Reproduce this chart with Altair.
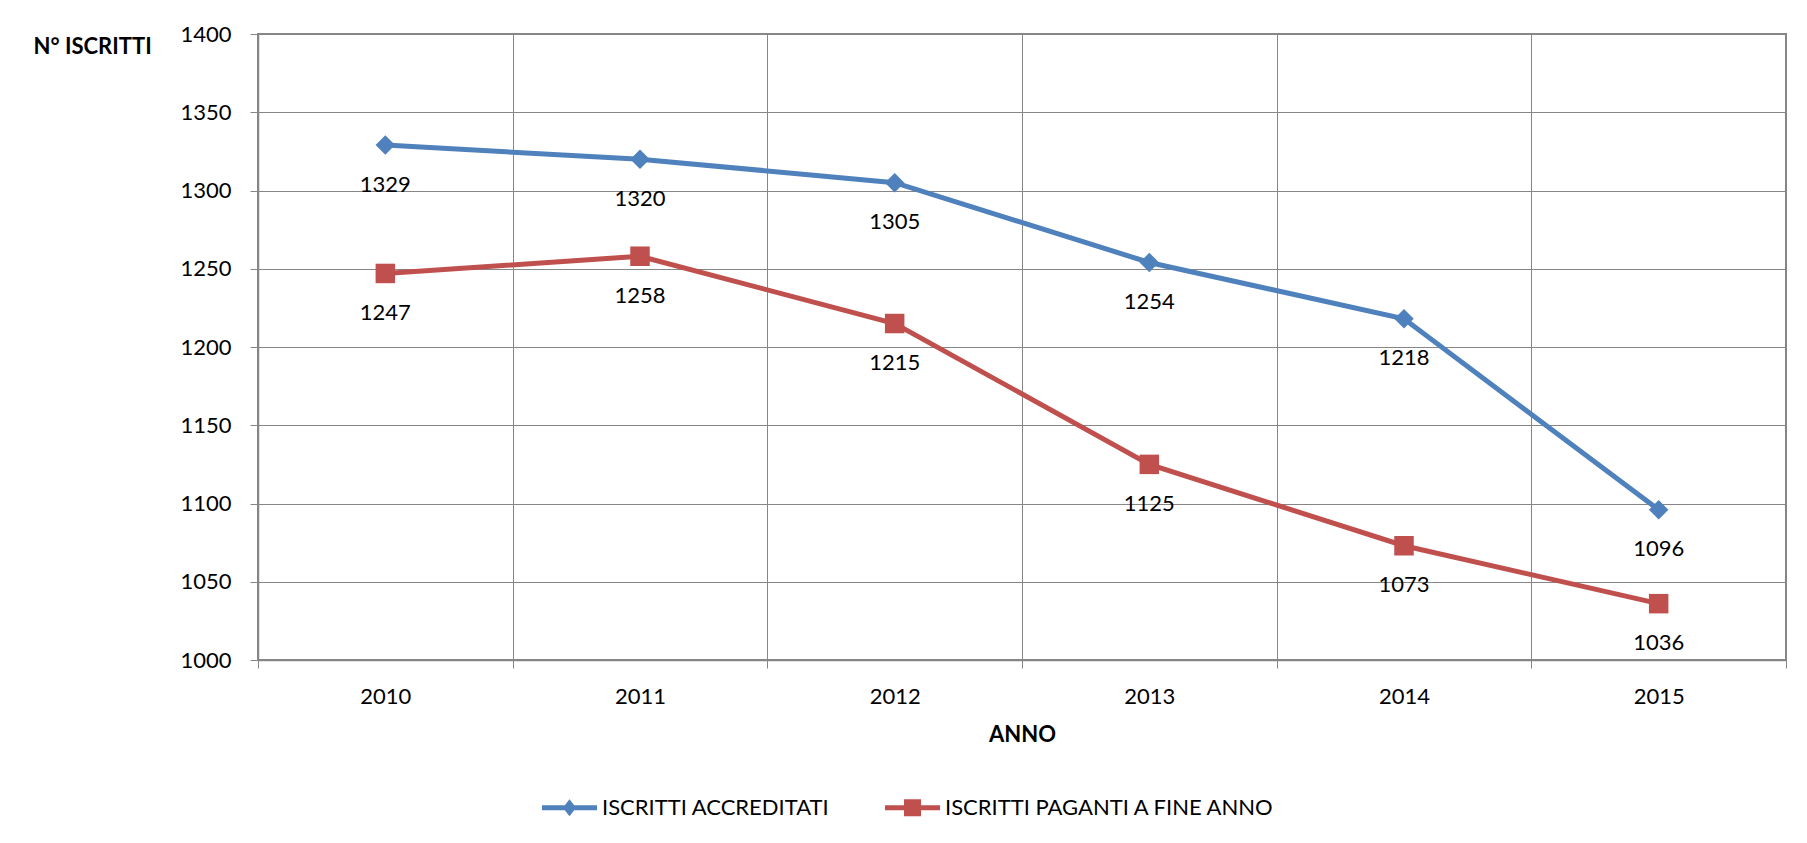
import altair as alt
import pandas as pd

years = [2010, 2011, 2012, 2013, 2014, 2015]
accreditati = [1329, 1320, 1305, 1254, 1218, 1096]
paganti = [1247, 1258, 1215, 1125, 1073, 1036]
series = ["ISCRITTI ACCREDITATI", "ISCRITTI PAGANTI A FINE ANNO"]
y_ticks = [1000, 1050, 1100, 1150, 1200, 1250, 1300, 1350, 1400]
x_bounds = [2009.5, 2010.5, 2011.5, 2012.5, 2013.5, 2014.5, 2015.5]
colors = ["#4F81BD", "#C0504D"]

rows = []
for y, v in zip(years, accreditati):
    rows.append({"anno": y, "valore": v, "serie": series[0]})
for y, v in zip(years, paganti):
    rows.append({"anno": y, "valore": v, "serie": series[1]})
df = pd.DataFrame(rows)

FONT = "Lato"
GRID = "#868686"

xscale = alt.Scale(domain=[x_bounds[0], x_bounds[-1]], nice=False, zero=False)
yscale = alt.Scale(domain=[1000, 1400], nice=False, zero=False)
cscale = alt.Scale(domain=series, range=colors)

y_enc = alt.Y(
    "valore:Q",
    scale=yscale,
    axis=alt.Axis(
        values=y_ticks,
        format="d",
        grid=True,
        gridColor=GRID,
        gridWidth=1,
        domainColor=GRID,
        domainWidth=1.5,
        tickColor=GRID,
        tickSize=8,
        labelFont=FONT,
        labelFontSize=22,
        labelColor="black",
        labelPadding=19,
        title="N° ISCRITTI",
        titleFont=FONT,
        titleFontSize=22,
        titleFontWeight="bold",
        titleColor="black",
        titleAngle=0,
        titleAlign="left",
        titleBaseline="alphabetic",
        titleX=-225,
        titleY=19,
    ),
)

base = alt.Chart(df)

lines = base.mark_line(strokeWidth=5).encode(
    x=alt.X(
        "anno:Q",
        scale=xscale,
        axis=alt.Axis(
            orient="bottom",
            values=years,
            format="d",
            grid=False,
            ticks=False,
            tickSize=0,
            domainColor=GRID,
            domainWidth=1.5,
            labelFont=FONT,
            labelFontSize=22,
            labelColor="black",
            labelPadding=26,
            title="ANNO",
            titleFont=FONT,
            titleFontSize=22,
            titleFontWeight="bold",
            titleColor="black",
            titlePadding=17,
        ),
    ),
    y=y_enc,
    color=alt.Color("serie:N", scale=cscale, legend=None),
    detail="serie:N",
)

points = base.mark_point(filled=True, opacity=1, size=380).encode(
    x=alt.X(
        "anno:Q",
        scale=xscale,
        axis=alt.Axis(
            orient="bottom",
            values=x_bounds,
            labels=False,
            grid=True,
            gridColor=GRID,
            gridWidth=1,
            ticks=True,
            tickSize=8,
            tickColor=GRID,
            domain=False,
            title=None,
        ),
    ),
    y=alt.Y("valore:Q", scale=yscale),
    color=alt.Color("serie:N", scale=cscale, legend=None),
    shape=alt.Shape("serie:N", scale=alt.Scale(domain=series, range=["diamond", "square"]), legend=None),
)

labels = base.mark_text(
    font=FONT, fontSize=22, color="black", baseline="alphabetic", align="center", dy=46.5
).encode(
    x=alt.X("anno:Q", scale=xscale, axis=None),
    y=alt.Y("valore:Q", scale=yscale),
    text=alt.Text("valore:Q", format="d"),
)

leg_paths = [
    "M-1,-0.09H1V0.09H-1Z M0,-0.31L0.24,0L0,0.31L-0.24,0Z",
    "M-1,-0.09H1V0.09H-1Z M-0.31,-0.31H0.31V0.31H-0.31Z",
]
legend_spec = alt.Legend(
    title=None,
    orient="none",
    direction="horizontal",
    legendX=284,
    legendY=746,
    symbolSize=3025,
    symbolStrokeWidth=0,
    labelFont=FONT,
    labelFontSize=22,
    labelColor="black",
    labelOffset=5,
    labelLimit=500,
    columnPadding=55,
)

legend_layer = base.transform_filter("datum.valore < 0").mark_point(filled=True, opacity=1, size=10).encode(
    x=alt.X("anno:Q", scale=xscale, axis=None),
    y=alt.Y("valore:Q", scale=yscale),
    color=alt.Color("serie:N", scale=alt.Scale(domain=series, range=colors), legend=legend_spec),
    shape=alt.Shape("serie:N", scale=alt.Scale(domain=series, range=leg_paths), legend=legend_spec),
)

chart = (
    alt.layer(lines, points, labels, legend_layer)
    .resolve_axis(x="independent")
    .resolve_scale(color="independent", shape="independent")
    .properties(
        width=1528,
        height=626,
        padding={"left": 25, "top": 15, "right": 5, "bottom": 0},
        background="white",
    )
    .configure_view(stroke=GRID, strokeWidth=2)
)

chart.save("out.html", embed_options={"renderer": "svg", "actions": False})
